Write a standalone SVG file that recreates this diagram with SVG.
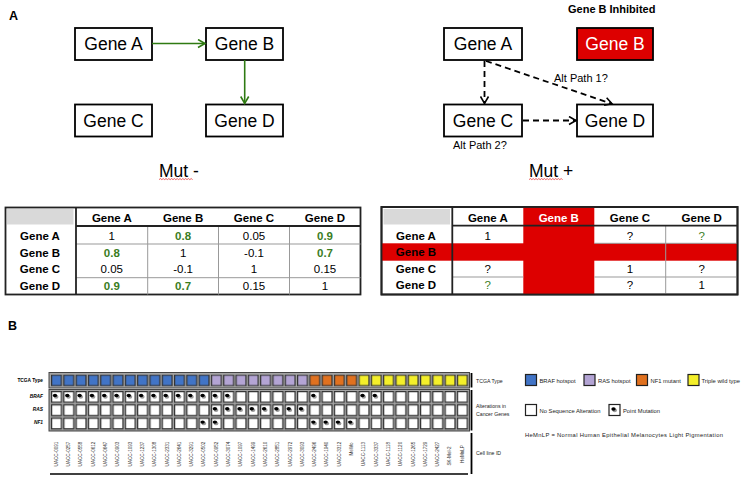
<svg xmlns="http://www.w3.org/2000/svg" xmlns:xlink="http://www.w3.org/1999/xlink" width="743" height="478" viewBox="0 0 743 478">
<style>
text{font-family:"Liberation Sans",Arial,sans-serif;fill:#000}
.panel{font-size:12.5px;font-weight:bold}
.box{fill:#fff;stroke:#000;stroke-width:1.8}
.gt{font-size:17.5px;text-anchor:middle}
.alt{font-size:11px}
.mut{font-size:17.5px}
.sq{fill:none;stroke:#e02020;stroke-width:0.7}
.tb{fill:#fff;stroke:#222;stroke-width:1.8}
.thk{stroke:#222;stroke-width:1.8}
.thin{stroke:#999;stroke-width:1}
.th{font-size:11.5px;font-weight:bold;text-anchor:middle}
.tv{font-size:11.5px;text-anchor:middle}
.g{fill:#3a7d1e;font-weight:bold}
.red{fill:#dd0000}
.sm{font-size:5.8px;fill:#222}
.lbl{font-size:4.6px;fill:#333;text-anchor:middle}
.rl{font-size:4.8px;font-weight:bold;text-anchor:end}
.band{fill:#a3a3a3;stroke:#444;stroke-width:1}
.bar{stroke:#000;stroke-width:1.8}
.lg{stroke:#222;stroke-width:1.2}
</style>
<defs>
<marker id="ag" markerWidth="10" markerHeight="10" refX="8" refY="5" orient="auto" markerUnits="userSpaceOnUse"><path d="M1,1 L8,5 L1,9" fill="none" stroke="#2f7a12" stroke-width="1.6"/></marker>
<marker id="ak" markerWidth="10" markerHeight="10" refX="8" refY="5" orient="auto" markerUnits="userSpaceOnUse"><path d="M1,1 L8,5 L1,9" fill="none" stroke="#000" stroke-width="1.6"/></marker>
<pattern id="pB" patternUnits="userSpaceOnUse" x="51" y="374.5" width="12.3" height="20"><rect x="0.6" y="0.6" width="9.8" height="10.6" fill="#4174c6" stroke="#333" stroke-width="1.2"/></pattern>
<pattern id="pP" patternUnits="userSpaceOnUse" x="51" y="374.5" width="12.3" height="20"><rect x="0.6" y="0.6" width="9.8" height="10.6" fill="#b3a4d4" stroke="#333" stroke-width="1.2"/></pattern>
<pattern id="pO" patternUnits="userSpaceOnUse" x="51" y="374.5" width="12.3" height="20"><rect x="0.6" y="0.6" width="9.8" height="10.6" fill="#e0711f" stroke="#333" stroke-width="1.2"/></pattern>
<pattern id="pY" patternUnits="userSpaceOnUse" x="51" y="374.5" width="12.3" height="20"><rect x="0.6" y="0.6" width="9.8" height="10.6" fill="#f4ef2a" stroke="#333" stroke-width="1.2"/></pattern>
<pattern id="pW" patternUnits="userSpaceOnUse" x="51" y="391" width="12.3" height="13.3"><rect x="0.6" y="0.6" width="9.8" height="10.6" fill="#fff" stroke="#333" stroke-width="1.2"/></pattern>
<g id="dot"><ellipse cx="1.2" cy="1.3" rx="2.3" ry="1.9" fill="#9a9a9a"/><ellipse cx="0" cy="0" rx="2.2" ry="1.7" fill="#000"/></g>
</defs>
<rect width="743" height="478" fill="#fff"/>

<!-- Panel A -->
<text class="panel" x="9" y="19.5">A</text>

<g id="left-network">
<g id="L-geneA"><rect class="box" x="75" y="28" width="77" height="32"/><text class="gt" x="113.5" y="50">Gene A</text></g>
<g id="L-geneB"><rect class="box" x="206" y="28" width="77" height="32"/><text class="gt" x="244.5" y="50">Gene B</text></g>
<g id="L-geneC"><rect class="box" x="75" y="104.5" width="77" height="32"/><text class="gt" x="113.5" y="127">Gene C</text></g>
<g id="L-geneD"><rect class="box" x="206" y="104.5" width="77" height="32"/><text class="gt" x="244.5" y="127">Gene D</text></g>
<g id="L-connectors" fill="none" stroke="#2f7a12" stroke-width="1.6">
<line x1="152" y1="43.5" x2="205" y2="43.5" marker-end="url(#ag)"/>
<line x1="244.7" y1="60" x2="244.7" y2="103.5" marker-end="url(#ag)"/>
</g>
<text class="mut" x="159" y="176.5">Mut -</text>
<path class="sq" d="M159,179.6 l1.4,-1 l1.4,1 l1.4,-1 l1.4,1 l1.4,-1 l1.4,1 l1.4,-1 l1.4,1 l1.4,-1 l1.4,1 l1.4,-1 l1.4,1 l1.4,-1 l1.4,1 l1.4,-1 l1.4,1 l1.4,-1 l1.4,1 l1.4,-1 l1.4,1 l1.4,-1 l1.4,1 l1.4,-1 l1.4,1"/>
</g>

<g id="right-network">
<text x="568" y="12.7" style="font-size:11px;font-weight:bold">Gene B Inhibited</text>
<g id="R-geneA"><rect class="box" x="444" y="28" width="78" height="32"/><text class="gt" x="483" y="50">Gene A</text></g>
<g id="R-geneB"><rect class="box" x="577" y="28" width="76" height="32" style="fill:#dd0000"/><text class="gt" x="615" y="50" style="fill:#fff">Gene B</text></g>
<g id="R-geneC"><rect class="box" x="444" y="104.5" width="78" height="32"/><text class="gt" x="483" y="127">Gene C</text></g>
<g id="R-geneD"><rect class="box" x="577" y="104.5" width="76" height="32"/><text class="gt" x="615" y="127">Gene D</text></g>
<g id="R-connectors" fill="none" stroke="#000" stroke-width="1.8" stroke-dasharray="6,4">
<line x1="484.5" y1="61" x2="484.5" y2="103.5" marker-end="url(#ak)"/>
<line x1="486" y1="61" x2="612" y2="103.8" marker-end="url(#ak)"/>
<line x1="523" y1="120.5" x2="576" y2="120.5" marker-end="url(#ak)"/>
</g>
<text class="alt" x="554" y="81.7">Alt Path 1?</text>
<text class="alt" x="453" y="149">Alt Path 2?</text>
<text class="mut" x="529" y="176.5">Mut +</text>
<path class="sq" d="M529,179.6 l1.4,-1 l1.4,1 l1.4,-1 l1.4,1 l1.4,-1 l1.4,1 l1.4,-1 l1.4,1 l1.4,-1 l1.4,1 l1.4,-1 l1.4,1 l1.4,-1 l1.4,1 l1.4,-1 l1.4,1 l1.4,-1 l1.4,1 l1.4,-1 l1.4,1 l1.4,-1 l1.4,1 l1.4,-1 l1.4,1"/>
</g>

<!-- Left table -->
<g id="table-left">
<rect class="tb" x="5.5" y="207.5" width="355" height="87"/>
<rect x="7" y="209" width="66.5" height="15.5" fill="#d9d9d9"/>
<line class="thin" x1="76" y1="244" x2="360.5" y2="244"/>
<line class="thin" x1="76" y1="277.7" x2="360.5" y2="277.7"/>
<line class="thin" x1="147.7" y1="226" x2="147.7" y2="294.5"/>
<line class="thin" x1="218.5" y1="226" x2="218.5" y2="294.5"/>
<line class="thin" x1="289.5" y1="226" x2="289.5" y2="294.5"/>
<line class="thk" x1="76" y1="207.5" x2="76" y2="294.5"/>
<line class="thk" x1="76" y1="226" x2="360.5" y2="226"/>
<text class="th" x="111.8" y="222.3">Gene A</text>
<text class="th" x="183.1" y="222.3">Gene B</text>
<text class="th" x="254" y="222.3">Gene C</text>
<text class="th" x="325" y="222.3">Gene D</text>
<text class="th" x="40" y="240">Gene A</text>
<text class="th" x="40" y="256.5">Gene B</text>
<text class="th" x="40" y="272.8">Gene C</text>
<text class="th" x="40" y="289.5">Gene D</text>
<text class="tv" x="111.8" y="240">1</text>
<text class="tv g" x="183.1" y="240">0.8</text>
<text class="tv" x="254" y="240">0.05</text>
<text class="tv g" x="325" y="240">0.9</text>
<text class="tv g" x="111.8" y="256.5">0.8</text>
<text class="tv" x="183.1" y="256.5">1</text>
<text class="tv" x="254" y="256.5">-0.1</text>
<text class="tv g" x="325" y="256.5">0.7</text>
<text class="tv" x="111.8" y="272.8">0.05</text>
<text class="tv" x="183.1" y="272.8">-0.1</text>
<text class="tv" x="254" y="272.8">1</text>
<text class="tv" x="325" y="272.8">0.15</text>
<text class="tv g" x="111.8" y="289.5">0.9</text>
<text class="tv g" x="183.1" y="289.5">0.7</text>
<text class="tv" x="254" y="289.5">0.15</text>
<text class="tv" x="325" y="289.5">1</text>
</g>

<!-- Right table -->
<g id="table-right">
<rect class="tb" x="381.5" y="207" width="356" height="87.5"/>
<rect x="383.5" y="209" width="66.5" height="15.5" fill="#d9d9d9"/>
<rect class="red" x="523.3" y="207" width="71" height="87.5"/>
<rect class="red" x="381.5" y="243.3" width="356" height="17.4"/>
<line class="thin" x1="452.3" y1="277" x2="523.3" y2="277"/>
<line class="thin" x1="594.3" y1="243.3" x2="737.5" y2="243.3"/>
<line class="thin" x1="594.3" y1="277" x2="737.5" y2="277"/>
<line class="thin" x1="665.7" y1="226" x2="665.7" y2="294.5"/>
<line class="thk" x1="452.3" y1="207" x2="452.3" y2="294.5"/>
<line class="thk" x1="452.3" y1="225.7" x2="737.5" y2="225.7"/>
<rect x="381.5" y="207" width="356" height="87.5" fill="none" stroke="#222" stroke-width="1.8"/>
<text class="th" x="487.8" y="222.3">Gene A</text>
<text class="th" x="558.8" y="222.3" style="fill:#fff">Gene B</text>
<text class="th" x="630" y="222.3">Gene C</text>
<text class="th" x="701.7" y="222.3">Gene D</text>
<text class="th" x="416" y="240">Gene A</text>
<text class="th" x="416" y="256.3">Gene B</text>
<text class="th" x="416" y="272.5">Gene C</text>
<text class="th" x="416" y="289.3">Gene D</text>
<text class="tv" x="487.8" y="240">1</text>
<text class="tv" x="630" y="240">?</text>
<text class="tv" x="701.7" y="240" style="fill:#3a7d1e">?</text>
<text class="tv" x="487.8" y="272.5">?</text>
<text class="tv" x="630" y="272.5">1</text>
<text class="tv" x="701.7" y="272.5">?</text>
<text class="tv" x="487.8" y="289.3" style="fill:#3a7d1e">?</text>
<text class="tv" x="630" y="289.3">?</text>
<text class="tv" x="701.7" y="289.3">1</text>
</g>

<!-- Panel B -->
<text class="panel" x="8" y="330">B</text>
<g id="panelB">
<text class="rl" x="43" y="382">TCGA Type</text>
<text class="rl" x="43" y="397.5" font-style="italic">BRAF</text>
<text class="rl" x="43" y="410.8" font-style="italic">RAS</text>
<text class="rl" x="43" y="424.1" font-style="italic">NF1</text>

<rect class="band" x="49" y="372.5" width="420.5" height="15.5"/>
<rect x="51" y="374.5" width="159.9" height="12" fill="url(#pB)"/>
<rect x="210.9" y="374.5" width="98.4" height="12" fill="url(#pP)"/>
<rect x="309.3" y="374.5" width="49.2" height="12" fill="url(#pO)"/>
<rect x="358.5" y="374.5" width="110.7" height="12" fill="url(#pY)"/>

<rect class="band" x="49" y="389.5" width="420.5" height="41.5"/>
<rect x="51" y="391" width="418.2" height="39.9" fill="url(#pW)"/>

<g id="dots">
<use xlink:href="#dot" x="55" y="395.5"/><use xlink:href="#dot" x="67.3" y="395.5"/><use xlink:href="#dot" x="79.6" y="395.5"/><use xlink:href="#dot" x="91.9" y="395.5"/><use xlink:href="#dot" x="104.2" y="395.5"/><use xlink:href="#dot" x="116.5" y="395.5"/><use xlink:href="#dot" x="128.8" y="395.5"/><use xlink:href="#dot" x="141.1" y="395.5"/><use xlink:href="#dot" x="153.4" y="395.5"/><use xlink:href="#dot" x="165.7" y="395.5"/><use xlink:href="#dot" x="178" y="395.5"/><use xlink:href="#dot" x="190.3" y="395.5"/><use xlink:href="#dot" x="202.6" y="395.5"/><use xlink:href="#dot" x="214.9" y="395.5"/><use xlink:href="#dot" x="227.2" y="395.5"/><use xlink:href="#dot" x="313.3" y="395.5"/><use xlink:href="#dot" x="362.5" y="395.5"/><use xlink:href="#dot" x="374.8" y="395.5"/>
<use xlink:href="#dot" x="214.9" y="408.8"/><use xlink:href="#dot" x="227.2" y="408.8"/><use xlink:href="#dot" x="239.5" y="408.8"/><use xlink:href="#dot" x="251.8" y="408.8"/><use xlink:href="#dot" x="264.1" y="408.8"/><use xlink:href="#dot" x="276.4" y="408.8"/><use xlink:href="#dot" x="288.7" y="408.8"/><use xlink:href="#dot" x="301" y="408.8"/>
<use xlink:href="#dot" x="202.6" y="422.1"/><use xlink:href="#dot" x="214.9" y="422.1"/><use xlink:href="#dot" x="313.3" y="422.1"/><use xlink:href="#dot" x="325.6" y="422.1"/><use xlink:href="#dot" x="337.9" y="422.1"/><use xlink:href="#dot" x="350.2" y="422.1"/>
</g>

<g id="cell-ids">
<text class="lbl" transform="translate(57.8,454) rotate(-90)">UACC-0091</text>
<text class="lbl" transform="translate(70.1,454) rotate(-90)">UACC-0257</text>
<text class="lbl" transform="translate(82.4,454) rotate(-90)">UACC-0558</text>
<text class="lbl" transform="translate(94.7,454) rotate(-90)">UACC-0612</text>
<text class="lbl" transform="translate(107,454) rotate(-90)">UACC-0647</text>
<text class="lbl" transform="translate(119.3,454) rotate(-90)">UACC-0903</text>
<text class="lbl" transform="translate(131.6,454) rotate(-90)">UACC-1093</text>
<text class="lbl" transform="translate(143.9,454) rotate(-90)">UACC-1237</text>
<text class="lbl" transform="translate(156.2,454) rotate(-90)">UACC-1308</text>
<text class="lbl" transform="translate(168.5,454) rotate(-90)">UACC-2331</text>
<text class="lbl" transform="translate(180.8,454) rotate(-90)">UACC-2641</text>
<text class="lbl" transform="translate(193.1,454) rotate(-90)">UACC-3291</text>
<text class="lbl" transform="translate(205.4,454) rotate(-90)">UACC-0502</text>
<text class="lbl" transform="translate(217.7,454) rotate(-90)">UACC-0952</text>
<text class="lbl" transform="translate(230,454) rotate(-90)">UACC-3074</text>
<text class="lbl" transform="translate(242.3,454) rotate(-90)">UACC-1097</text>
<text class="lbl" transform="translate(254.6,454) rotate(-90)">UACC-1499</text>
<text class="lbl" transform="translate(266.9,454) rotate(-90)">UACC-2610</text>
<text class="lbl" transform="translate(279.2,454) rotate(-90)">UACC-2851</text>
<text class="lbl" transform="translate(291.5,454) rotate(-90)">UACC-2972</text>
<text class="lbl" transform="translate(303.8,454) rotate(-90)">UACC-3093</text>
<text class="lbl" transform="translate(316.1,454) rotate(-90)">UACC-2496</text>
<text class="lbl" transform="translate(328.4,454) rotate(-90)">UACC-1940</text>
<text class="lbl" transform="translate(340.7,454) rotate(-90)">UACC-3312</text>
<text class="lbl" transform="translate(353,449) rotate(-90)">MeWo</text>
<text class="lbl" transform="translate(365.3,454) rotate(-90)">UACC-1113</text>
<text class="lbl" transform="translate(377.6,454) rotate(-90)">UACC-3337</text>
<text class="lbl" transform="translate(389.9,454) rotate(-90)">UACC-1118</text>
<text class="lbl" transform="translate(402.2,454) rotate(-90)">UACC-1120</text>
<text class="lbl" transform="translate(414.5,454) rotate(-90)">UACC-1265</text>
<text class="lbl" transform="translate(426.8,454) rotate(-90)">UACC-1729</text>
<text class="lbl" transform="translate(439.1,454) rotate(-90)">UACC-2427</text>
<text class="lbl" transform="translate(451.4,456) rotate(-90)">SK-Mel-2</text>
<text class="lbl" transform="translate(463.7,454) rotate(-90)">HeMnLP</text>
</g>
<line x1="50" y1="474" x2="468" y2="474" stroke="#000" stroke-width="1.5"/>

<line class="bar" x1="471.5" y1="373" x2="471.5" y2="387.5"/>
<line class="bar" x1="471.5" y1="390" x2="471.5" y2="430.5"/>
<line class="bar" x1="471.5" y1="433" x2="471.5" y2="474"/>
<text class="sm" x="476" y="382.5" style="font-size:5.2px">TCGA Type</text>
<text class="sm" x="476" y="407.5" style="font-size:5.2px">Alterations in</text>
<text class="sm" x="476" y="415.5" style="font-size:5.2px">Cancer Genes</text>
<text class="sm" x="476" y="454.5" style="font-size:5.2px">Cell line ID</text>

<g id="legend">
<rect class="lg" x="525.5" y="374.5" width="11" height="11" fill="#4174c6"/><text class="sm" x="539.5" y="382.5">BRAF hotspot</text>
<rect class="lg" x="584" y="374.5" width="11" height="11" fill="#b3a4d4"/><text class="sm" x="598" y="382.5">RAS hotspot</text>
<rect class="lg" x="636.5" y="374.5" width="11" height="11" fill="#e0711f"/><text class="sm" x="650.5" y="382.5">NF1 mutant</text>
<rect class="lg" x="688" y="374.5" width="11" height="11" fill="#f4ef2a"/><text class="sm" x="701.5" y="382.5">Triple wild type</text>
<rect class="lg" x="525.5" y="404.5" width="11" height="11" fill="#fff"/><text class="sm" x="539.5" y="412.5">No Sequence Alteration</text>
<rect class="lg" x="609" y="404.5" width="11" height="11" fill="#fff"/><use xlink:href="#dot" x="613.5" y="409"/><text class="sm" x="623" y="412.5">Point Mutation</text>
<text class="sm" x="525" y="436.5" textLength="198">HeMnLP = Normal Human Epithelial Melanocytes Light Pigmentation</text>
</g>
</g>
</svg>
